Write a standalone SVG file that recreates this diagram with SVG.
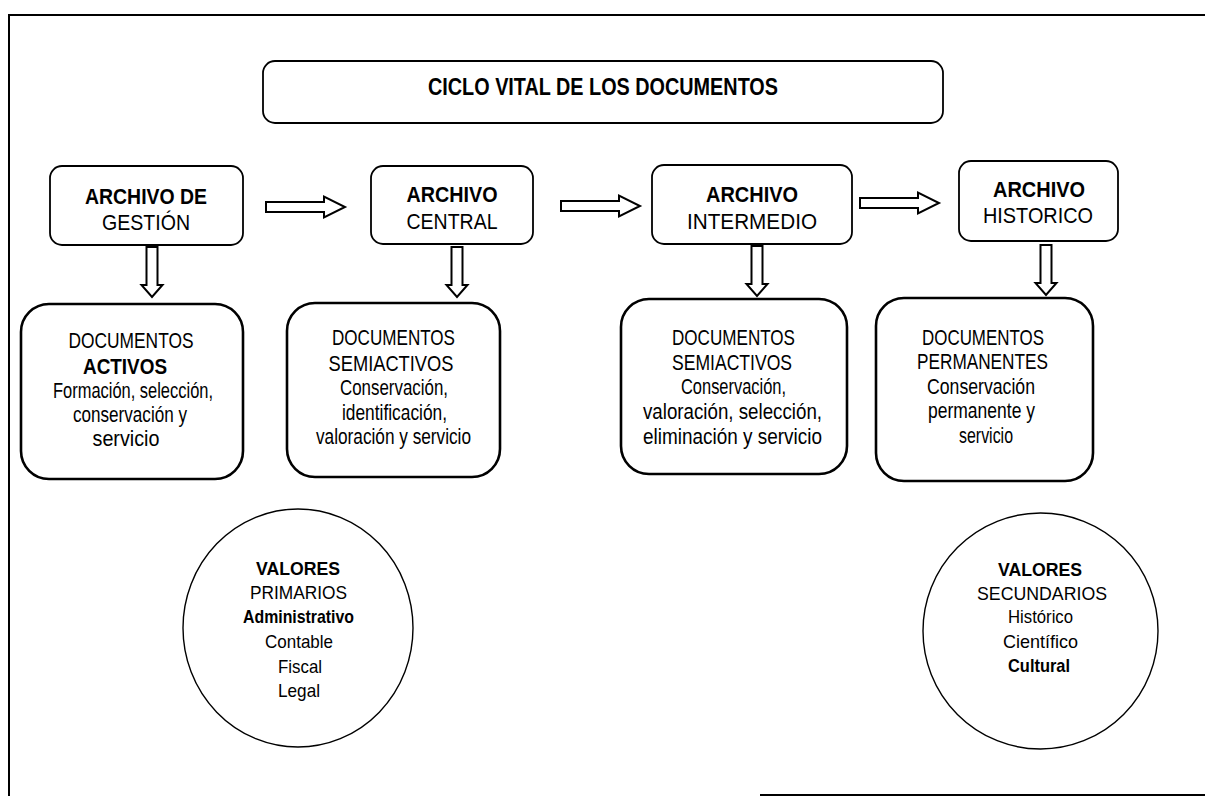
<svg xmlns="http://www.w3.org/2000/svg" width="1205" height="796" viewBox="0 0 1205 796">
<style>
  .frame{fill:none;stroke:#000;stroke-width:2}
  .box{fill:#fff;stroke:#000;stroke-width:1.8}
  .doc{fill:#fff;stroke:#000;stroke-width:2.6}
  .circ{fill:#fff;stroke:#000;stroke-width:1.4}
  .arr{fill:#fff;stroke:#000;stroke-width:2;stroke-linejoin:miter}
  text{font-family:"Liberation Sans",Arial,Helvetica,sans-serif;fill:#000;text-anchor:middle}
  .t{font-size:23px;font-weight:bold}
  .h{font-size:22px}
  .hb{font-size:22px;font-weight:bold}
  .d{font-size:22.5px}
  .db{font-size:22.5px;font-weight:bold}
  .c{font-size:18.5px}
  .cb{font-size:18.5px;font-weight:bold}
</style>
<defs>
  <path id="ra" d="M0,-5 H58 V-10.5 L79,0 L58,10.5 V5 H0 Z"/>
  <path id="da" d="M-5.5,0 V38 H-10.5 L0,50 L10.5,38 H5.5 V0 Z"/>
</defs>

<g id="frame">
  <path class="frame" d="M1205,15 H9 V796"/>
  <path class="frame" d="M760,795 H1205"/>
</g>

<g id="title">
  <rect class="box" x="263" y="61" width="680" height="62" rx="12"/>
  <text class="t" x="603" y="95" textLength="350" lengthAdjust="spacingAndGlyphs">CICLO VITAL DE LOS DOCUMENTOS</text>
</g>

<g id="archivo-gestion">
  <rect class="box" x="50" y="166" width="193" height="79" rx="12"/>
  <text class="hb" x="146" y="204" textLength="122" lengthAdjust="spacingAndGlyphs">ARCHIVO DE</text>
  <text class="h" x="146" y="230" textLength="88" lengthAdjust="spacingAndGlyphs">GESTIÓN</text>
</g>

<g id="archivo-central">
  <rect class="box" x="371" y="166" width="162" height="78" rx="12"/>
  <text class="hb" x="452" y="202" textLength="91" lengthAdjust="spacingAndGlyphs">ARCHIVO</text>
  <text class="h" x="452" y="229" textLength="91" lengthAdjust="spacingAndGlyphs">CENTRAL</text>
</g>

<g id="archivo-intermedio">
  <rect class="box" x="652" y="165" width="200" height="79" rx="12"/>
  <text class="hb" x="752" y="202" textLength="92" lengthAdjust="spacingAndGlyphs">ARCHIVO</text>
  <text class="h" x="752" y="229" textLength="130" lengthAdjust="spacingAndGlyphs">INTERMEDIO</text>
</g>

<g id="archivo-historico">
  <rect class="box" x="959" y="161" width="159" height="80" rx="12"/>
  <text class="hb" x="1039" y="197" textLength="92" lengthAdjust="spacingAndGlyphs">ARCHIVO</text>
  <text class="h" x="1038" y="223" textLength="110" lengthAdjust="spacingAndGlyphs">HISTORICO</text>
</g>

<g id="docs-activos">
  <rect class="doc" x="21" y="304" width="222" height="175" rx="28"/>
  <text class="d" x="131" y="348" textLength="125" lengthAdjust="spacingAndGlyphs">DOCUMENTOS</text>
  <text class="db" x="125" y="374" textLength="84" lengthAdjust="spacingAndGlyphs">ACTIVOS</text>
  <text class="d" x="133" y="398" textLength="160" lengthAdjust="spacingAndGlyphs">Formación, selección,</text>
  <text class="d" x="130" y="422" textLength="114" lengthAdjust="spacingAndGlyphs">conservación y</text>
  <text class="d" x="126" y="446" textLength="67" lengthAdjust="spacingAndGlyphs">servicio</text>
</g>

<g id="docs-semiactivos-1">
  <rect class="doc" x="287" y="303" width="213" height="174" rx="28"/>
  <text class="d" x="393.5" y="345" textLength="123" lengthAdjust="spacingAndGlyphs">DOCUMENTOS</text>
  <text class="d" x="391" y="371" textLength="125" lengthAdjust="spacingAndGlyphs">SEMIACTIVOS</text>
  <text class="d" x="394" y="395" textLength="108" lengthAdjust="spacingAndGlyphs">Conservación,</text>
  <text class="d" x="394.5" y="420" textLength="105" lengthAdjust="spacingAndGlyphs">identificación,</text>
  <text class="d" x="393.5" y="444" textLength="155" lengthAdjust="spacingAndGlyphs">valoración y servicio</text>
</g>

<g id="docs-semiactivos-2">
  <rect class="doc" x="621" y="299" width="226" height="175" rx="28"/>
  <text class="d" x="733.5" y="345" textLength="123" lengthAdjust="spacingAndGlyphs">DOCUMENTOS</text>
  <text class="d" x="732" y="370" textLength="120" lengthAdjust="spacingAndGlyphs">SEMIACTIVOS</text>
  <text class="d" x="733.5" y="394" textLength="105" lengthAdjust="spacingAndGlyphs">Conservación,</text>
  <text class="d" x="732.5" y="419" textLength="179" lengthAdjust="spacingAndGlyphs">valoración, selección,</text>
  <text class="d" x="732.5" y="444" textLength="179" lengthAdjust="spacingAndGlyphs">eliminación y servicio</text>
</g>

<g id="docs-permanentes">
  <rect class="doc" x="876" y="298" width="217" height="183" rx="28"/>
  <text class="d" x="983" y="345" textLength="122" lengthAdjust="spacingAndGlyphs">DOCUMENTOS</text>
  <text class="d" x="982.5" y="369" textLength="131" lengthAdjust="spacingAndGlyphs">PERMANENTES</text>
  <text class="d" x="981" y="394" textLength="108" lengthAdjust="spacingAndGlyphs">Conservación</text>
  <text class="d" x="981.5" y="418" textLength="107" lengthAdjust="spacingAndGlyphs">permanente y</text>
  <text class="d" x="986" y="443" textLength="54" lengthAdjust="spacingAndGlyphs">servicio</text>
</g>

<g id="valores-primarios">
  <ellipse class="circ" cx="298" cy="628" rx="115" ry="119"/>
  <text class="cb" x="298" y="575" textLength="84" lengthAdjust="spacingAndGlyphs">VALORES</text>
  <text class="c" x="298.5" y="599" textLength="97" lengthAdjust="spacingAndGlyphs">PRIMARIOS</text>
  <text class="cb" x="298.5" y="623" textLength="111" lengthAdjust="spacingAndGlyphs">Administrativo</text>
  <text class="c" x="299" y="648" textLength="68" lengthAdjust="spacingAndGlyphs">Contable</text>
  <text class="c" x="300" y="673" textLength="44" lengthAdjust="spacingAndGlyphs">Fiscal</text>
  <text class="c" x="299" y="697" textLength="42" lengthAdjust="spacingAndGlyphs">Legal</text>
</g>

<g id="valores-secundarios">
  <ellipse class="circ" cx="1040.5" cy="631" rx="117.5" ry="118"/>
  <text class="cb" x="1040" y="576" textLength="84" lengthAdjust="spacingAndGlyphs">VALORES</text>
  <text class="c" x="1042" y="600" textLength="130" lengthAdjust="spacingAndGlyphs">SECUNDARIOS</text>
  <text class="c" x="1040.5" y="623" textLength="65" lengthAdjust="spacingAndGlyphs">Histórico</text>
  <text class="c" x="1040.5" y="648" textLength="75" lengthAdjust="spacingAndGlyphs">Científico</text>
  <text class="cb" x="1039" y="672" textLength="62" lengthAdjust="spacingAndGlyphs">Cultural</text>
</g>

<g id="connectors">
  <use href="#ra" class="arr" transform="translate(266,207)"/>
  <use href="#ra" class="arr" transform="translate(561,206)"/>
  <use href="#ra" class="arr" transform="translate(860,203)"/>
  <use href="#da" class="arr" transform="translate(152,247)"/>
  <use href="#da" class="arr" transform="translate(457,247)"/>
  <use href="#da" class="arr" transform="translate(757,246)"/>
  <use href="#da" class="arr" transform="translate(1046,245)"/>
</g>
</svg>
